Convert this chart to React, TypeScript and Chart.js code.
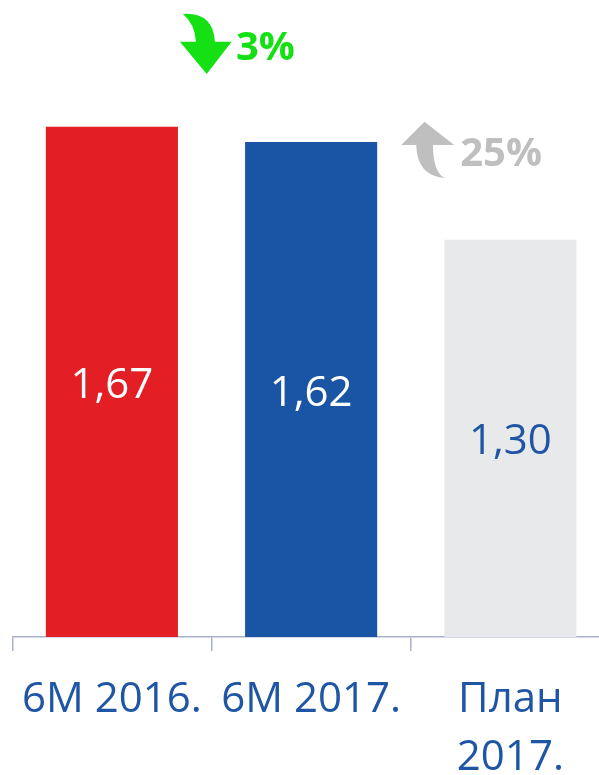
import React, { useEffect, useRef } from "react";
import { Chart, registerables } from "chart.js";

Chart.register(...registerables);

const categories: (string | string[])[] = ["6M 2016.", "6M 2017.", ["План", "2017."]];
const values: number[] = [1.67, 1.62, 1.3];
const valueLabels: string[] = ["1,67", "1,62", "1,30"];
const barColors: string[] = ["#E31E24", "#1A54A4", "#E8E9EB"];
const valueLabelColors: string[] = ["#FFFFFF", "#FFFFFF", "#1F55A5"];
const changeLabels: string[] = ["3%", "25%"];

const FONT = "'Open Sans', sans-serif";
const AXIS_COLOR = "#A9B1CD";
const LABEL_BLUE = "#1F55A5";
const GREEN = "#14E014";
const GRAY = "#BFBFBF";

const overlayPlugin = {
  id: "overlay",
  afterDatasetsDraw(chart: any) {
    const ctx = chart.ctx;
    const meta = chart.getDatasetMeta(0);
    ctx.save();
    ctx.font = `42px ${FONT}`;
    ctx.textAlign = "center";
    ctx.textBaseline = "middle";
    meta.data.forEach((bar: any, i: number) => {
      const p = bar.getProps(["x", "y", "base"], true);
      ctx.fillStyle = valueLabelColors[i];
      ctx.fillText(valueLabels[i], p.x, (p.y + p.base) / 2 + 4);
    });
    ctx.restore();

    const b0 = meta.data[0].getProps(["x", "y", "width"], true);
    const b1 = meta.data[1].getProps(["x", "y", "width"], true);

    // green down arrow
    const gx = b0.x + b0.width / 2; // ~178
    const gy = 0;
    ctx.save();
    ctx.fillStyle = GREEN;
    ctx.beginPath();
    ctx.moveTo(gx + 5, gy + 14);
    ctx.quadraticCurveTo(gx + 35, gy + 12, gx + 37, gy + 41.7);
    ctx.lineTo(gx + 53.7, gy + 41.7);
    ctx.lineTo(gx + 28.7, gy + 74);
    ctx.lineTo(gx + 2, gy + 41.7);
    ctx.lineTo(gx + 18, gy + 41.7);
    ctx.quadraticCurveTo(gx + 17, gy + 24, gx + 5, gy + 14);
    ctx.closePath();
    ctx.fill();
    ctx.font = `bold 40px ${FONT}`;
    ctx.textAlign = "left";
    ctx.textBaseline = "middle";
    ctx.fillText(changeLabels[0], gx + 58, gy + 49);
    ctx.restore();

    // gray up arrow
    const hx = b1.x + b1.width / 2 + 24; // ~400
    const hy = b1.y - 22; // ~120
    ctx.save();
    ctx.fillStyle = GRAY;
    ctx.beginPath();
    ctx.moveTo(hx + 23.3, hy + 1.7);
    ctx.lineTo(hx + 53, hy + 25);
    ctx.lineTo(hx + 31.7, hy + 25);
    ctx.quadraticCurveTo(hx + 32, hy + 52, hx + 43.3, hy + 58);
    ctx.quadraticCurveTo(hx + 16, hy + 56, hx + 15, hy + 25);
    ctx.lineTo(hx, hy + 25);
    ctx.closePath();
    ctx.fill();
    ctx.font = `bold 40px ${FONT}`;
    ctx.textAlign = "left";
    ctx.textBaseline = "middle";
    ctx.fillText(changeLabels[1], hx + 59, hy + 35);
    ctx.restore();
  },
};

export default function App() {
  const ref = useRef<HTMLCanvasElement>(null);
  useEffect(() => {
    document.body.style.margin = "0";
    document.body.style.overflow = "hidden";
    const chart = new Chart(ref.current!, {
      type: "bar",
      data: {
        labels: categories as any,
        datasets: [
          {
            data: values,
            backgroundColor: barColors,
            borderWidth: 0,
            categoryPercentage: 1,
            barPercentage: 0.663,
          },
        ],
      },
      options: {
        responsive: false,
        animation: false,
        devicePixelRatio: 1,
        layout: { padding: { left: 12, right: 0, top: 26, bottom: 0 } },
        plugins: { legend: { display: false }, tooltip: { enabled: false } },
        scales: {
          x: {
            offset: true,
            border: { display: true, color: AXIS_COLOR, width: 1.5 },
            grid: {
              display: true,
              offset: true,
              drawOnChartArea: false,
              drawTicks: true,
              tickLength: 14,
              color: AXIS_COLOR,
              lineWidth: 1.5,
            },
            ticks: {
              color: LABEL_BLUE,
              font: { family: FONT, size: 42, lineHeight: 1.38 },
              padding: 20,
              maxRotation: 0,
              minRotation: 0,
              autoSkip: false,
            },
            afterFit: (scale: any) => {
              scale.height = 138;
            },
          },
          y: {
            display: false,
            min: 0,
            max: 2,
          },
        },
      },
      plugins: [overlayPlugin],
    });
    return () => chart.destroy();
  }, []);
  return (
    <div style={{ width: 599, height: 775, overflow: "hidden" }}>
      <canvas ref={ref} width={610} height={775} style={{ display: "block" }} />
    </div>
  );
}
